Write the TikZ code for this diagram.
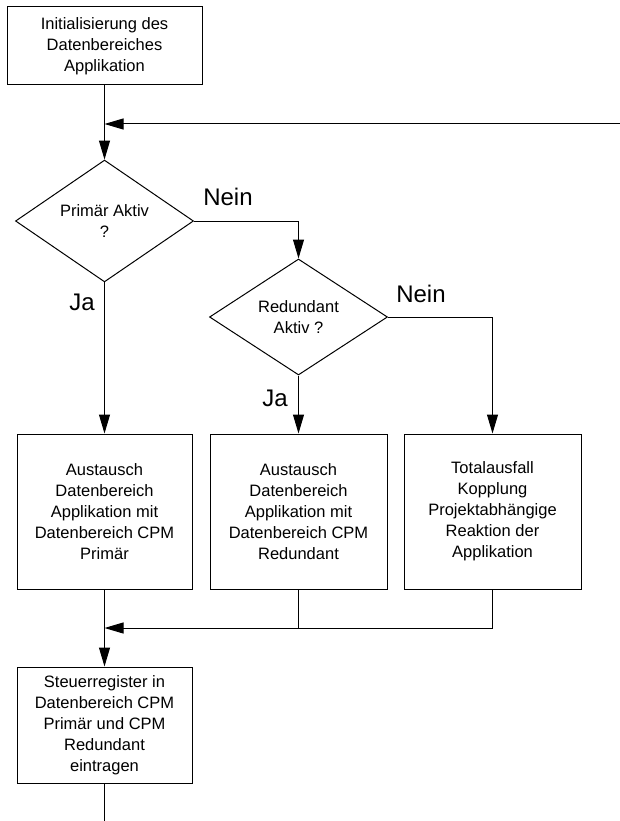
\documentclass[tikz,border=0pt]{standalone}
\usepackage{fontspec}
\setmainfont{Liberation Sans}
\usetikzlibrary{shapes.geometric,arrows.meta}
\tikzset{
  box/.style={draw, line width=1pt, rectangle, inner sep=0pt, align=center,
    font=\fontsize{16.5}{21}\selectfont},
  decision/.style={draw, line width=1pt, diamond, inner sep=0pt, align=center,
    minimum width=178pt, minimum height=116pt, font=\fontsize{16.5}{21}\selectfont},
  conn/.style={line width=1pt},
  arr/.style={conn, -{Triangle[length=19pt, width=11pt]}},
  lbl/.style={font=\fontsize{24}{28}\selectfont, inner sep=0pt}
}
\begin{document}
\begin{tikzpicture}[x=1pt, y=-1pt]
\useasboundingbox (0,0) rectangle (620,821);
\node[box, minimum width=195pt, minimum height=78pt] (init) at (104.5,46)
  {Initialisierung des\\Datenbereiches\\Applikation};
\node[decision] (d1) at (104.5,221) {Primär Aktiv\\?};
\node[decision] (d2) at (298.5,317) {Redundant\\Aktiv ?};
\node[box, minimum width=175pt, minimum height=155pt] (b1) at (104.5,511.5)
  {Austausch\\Datenbereich\\Applikation mit\\Datenbereich CPM\\Primär};
\node[box, minimum width=177pt, minimum height=155pt] (b2) at (298.5,511.5)
  {Austausch\\Datenbereich\\Applikation mit\\Datenbereich CPM\\Redundant};
\node[box, minimum width=177pt, minimum height=155pt] (b3) at (492.5,511.5)
  {Totalausfall\\Kopplung\\Projektabhängige\\Reaktion der\\Applikation};
\node[box, minimum width=175pt, minimum height=116pt] (fin) at (104.5,725)
  {Steuerregister in\\Datenbereich CPM\\Primär und CPM\\Redundant\\eintragen};

\coordinate (loopin) at (620,124);
\coordinate (j1) at (104.5,124);
\coordinate (j2) at (104.5,628);
\coordinate (endpt) at (104.5,821);

\draw[arr] (init.south) -- (d1.north);
\draw[arr] (loopin) -- (j1);
\draw[arr] (d1.east) -| (d2.north);
\draw[arr] (d1.south) -- (b1.north);
\draw[arr] (d2.south) -- (b2.north);
\draw[arr] (d2.east) -| (b3.north);
\draw[arr] (b1.south) -- (fin.north);
\draw[conn] (b2.south) -- (b2.south |- j2);
\draw[arr] (b3.south) |- (j2);
\draw[conn] (fin.south) -- (endpt);

\node[lbl] (n1) at (228,197) {Nein};
\node[lbl] (n2) at (421,294) {Nein};
\node[lbl] (ja1) at (82,302) {Ja};
\node[lbl] (ja2) at (275,398) {Ja};
\end{tikzpicture}
\end{document}
